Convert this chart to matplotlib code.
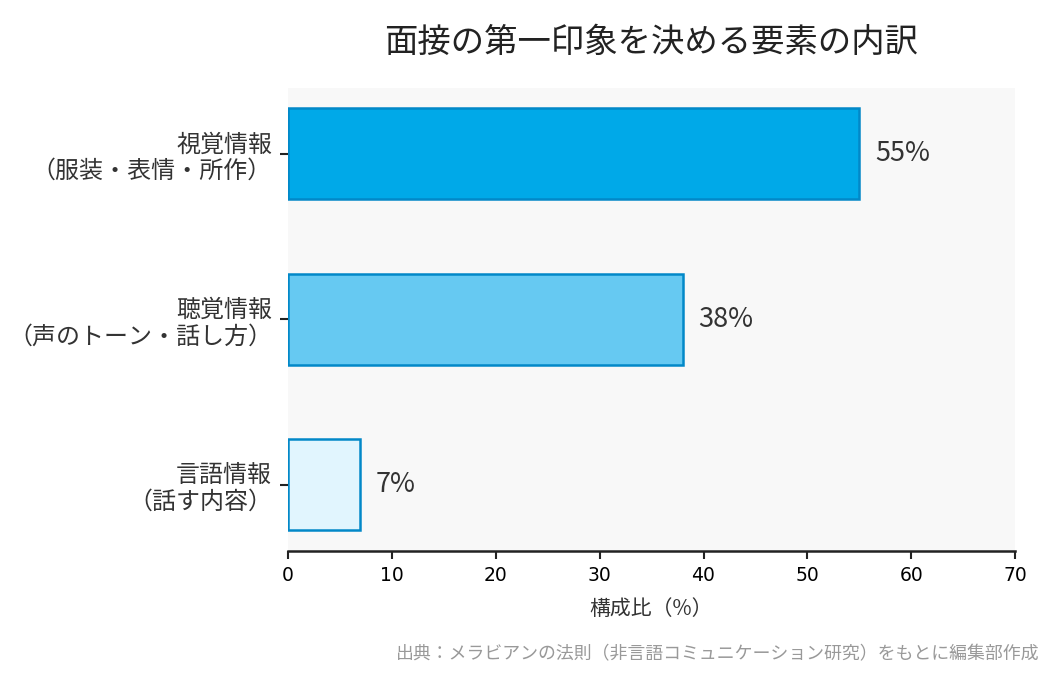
import numpy as np
import matplotlib.pyplot as plt

plt.rcParams['font.family'] = ['Noto Sans CJK JP', 'DejaVu Sans']

# データ（上から順に）
labels = ['視覚情報\n（服装・表情・所作）', '聴覚情報\n（声のトーン・話し方）', '言語情報\n（話す内容）']
values = [55, 38, 7]
colors = ['#00A9E8', '#66C9F2', '#E1F5FE']
xticks = [0, 10, 20, 30, 40, 50, 60, 70]

fig = plt.figure(figsize=(7, 4.5), dpi=150)
ax = fig.add_axes([0.274, 0.184, 0.693, 0.686])
ax.set_facecolor('#f8f8f8')

y = np.arange(len(values))
ax.barh(y, values, height=0.55, color=colors, edgecolor='#0288C8', linewidth=1.2)
for yi, v in zip(y, values):
    ax.text(v + 1.5, yi, f'{v}%', va='center', ha='left', fontsize=13, color='#333333')

ax.set_ylim(2.4, -0.4)
ax.set_xlim(0, 70)
ax.set_yticks(y)
ax.set_yticklabels(labels, fontsize=11.5, color='#333333', linespacing=1.2)
ax.set_xticks(xticks)
ax.set_xticklabels([str(t) for t in xticks], fontsize=9, family='DejaVu Sans')
ax.set_xlabel('構成比（%）', fontsize=10, color='#333333', labelpad=6)

for s in ['top', 'right', 'left']:
    ax.spines[s].set_visible(False)
ax.spines['bottom'].set_color('#222222')
ax.spines['bottom'].set_linewidth(1.2)
ax.tick_params(axis='both', color='#222222', length=4, width=1.0)

ax.set_title('面接の第一印象を決める要素の内訳', fontsize=16, color='#222222', pad=17)

fig.text(0.99, 0.03, '出典：メラビアンの法則（非言語コミュニケーション研究）をもとに編集部作成',
         ha='right', va='center', fontsize=8.6, color='#999999')

fig.savefig('out.png', dpi=150)
